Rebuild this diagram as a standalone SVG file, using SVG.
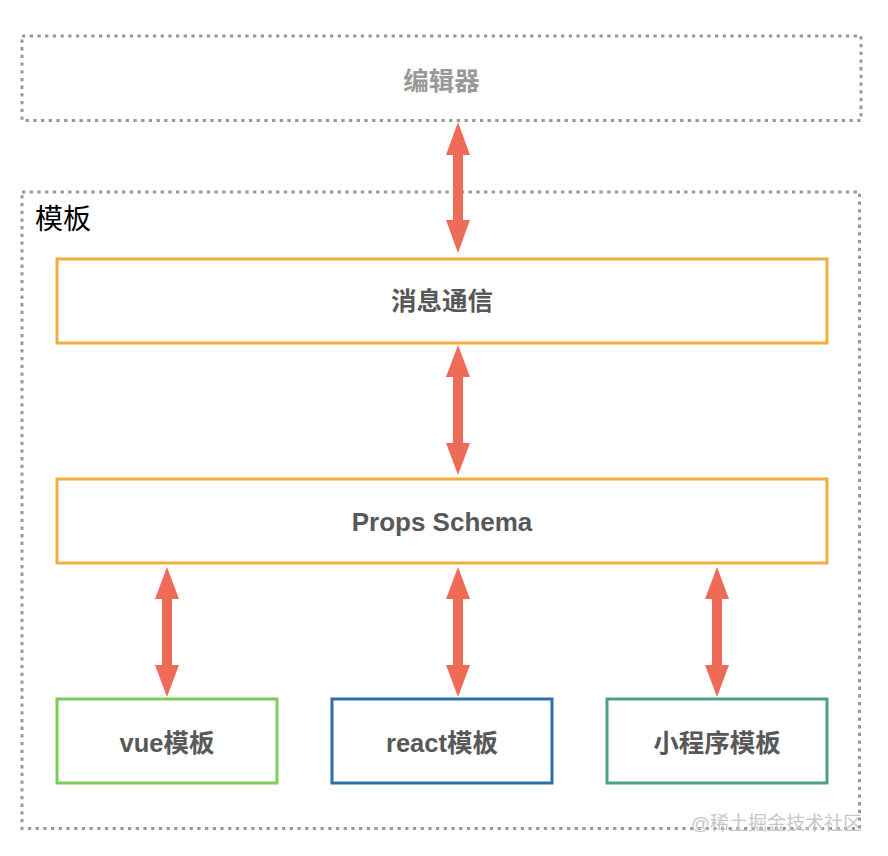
<svg xmlns="http://www.w3.org/2000/svg" width="888" height="856" viewBox="0 0 888 856">
<style>
.dot{fill:none;stroke:#999;stroke-width:3;stroke-dasharray:3.3 4.4}
.box{fill:#fff;stroke-width:3}
.lbl{font-family:"Liberation Sans","Noto Sans CJK SC",sans-serif;font-weight:bold;font-size:25.5px;fill:#585858;text-anchor:middle}
.arr{fill:#EE6B57}
</style>
<rect width="888" height="856" fill="#fff"/>
<g id="editor">
<rect class="dot" x="22" y="36" width="839" height="84.5"/>
<text class="lbl" x="441.5" y="90" style="fill:#999">编辑器</text>
</g>
<g id="template">
<rect class="dot" x="22" y="192" width="837.5" height="636.5"/>
<text x="35" y="229" font-family="'Liberation Sans','Noto Sans CJK SC',sans-serif" font-size="28" fill="#000">模板</text>
</g>
<g id="message">
<rect class="box" x="57" y="259" width="770" height="84" stroke="#F0AE41"/>
<text class="lbl" x="442" y="310">消息通信</text>
</g>
<g id="props">
<rect class="box" x="57" y="479" width="770" height="84" stroke="#F0AE41"/>
<text class="lbl" x="442" y="531" style="font-size:26px">Props Schema</text>
</g>
<g id="vue">
<rect class="box" x="57" y="699" width="220" height="84" stroke="#7ECC58"/>
<text class="lbl" x="167" y="752">vue模板</text>
</g>
<g id="react">
<rect class="box" x="332" y="699" width="220" height="84" stroke="#2F6EA9"/>
<text class="lbl" x="442" y="752">react模板</text>
</g>
<g id="miniapp">
<rect class="box" x="607" y="699" width="220" height="84" stroke="#4FA08B"/>
<text class="lbl" x="717" y="752">小程序模板</text>
</g>
<g id="connectors">
<polygon class="arr" points="458,122 470,155 463,155 463,220 470,220 458,253 446,220 453,220 453,155 446,155"/>
<polygon class="arr" points="458,345 470,377 463,377 463,443 470,443 458,475 446,443 453,443 453,377 446,377"/>
<polygon class="arr" points="458,567 470,599 463,599 463,665 470,665 458,697 446,665 453,665 453,599 446,599"/>
<polygon class="arr" points="167,567 179,599 172,599 172,665 179,665 167,697 155,665 162,665 162,599 155,599"/>
<polygon class="arr" points="717,567 729,599 722,599 722,665 729,665 717,697 705,665 712,665 712,599 705,599"/>
</g>
<text x="862" y="830" text-anchor="end" font-family="'Liberation Sans','Noto Sans CJK SC',sans-serif" font-size="19" fill="#c8c8c8">@稀土掘金技术社区</text>
</svg>
